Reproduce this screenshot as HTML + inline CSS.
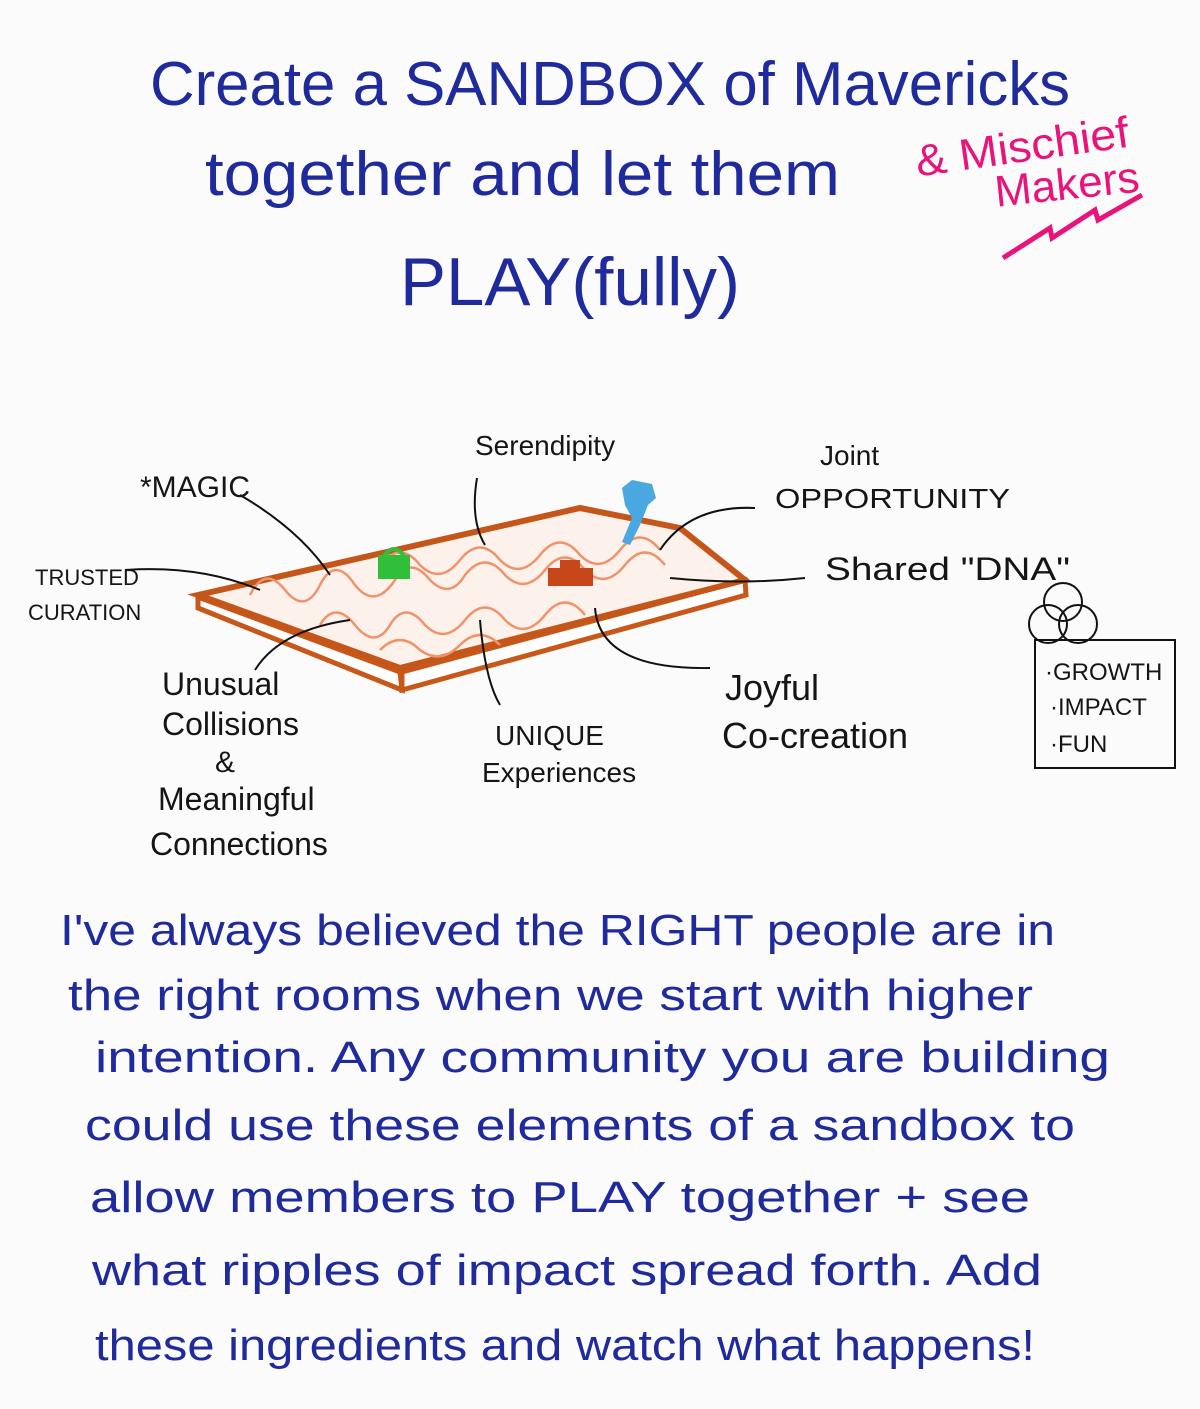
<!DOCTYPE html>
<html><head><meta charset="utf-8"><style>
html,body{margin:0;padding:0;background:#fbfbfb;}
svg{display:block;}
</style></head><body>
<svg width="1200" height="1409" viewBox="0 0 1200 1409" xmlns="http://www.w3.org/2000/svg">
<rect width="1200" height="1409" fill="#fbfbfb"/>
<g fill="#1f2a9c" font-family="Liberation Sans, sans-serif">
<text x="150" y="105" font-size="62" textLength="920" lengthAdjust="spacingAndGlyphs">Create a SANDBOX of Mavericks</text>
<text x="205" y="195" font-size="62" textLength="635" lengthAdjust="spacingAndGlyphs">together and let them</text>
<text x="400" y="305" font-size="68" textLength="340" lengthAdjust="spacingAndGlyphs">PLAY(fully)</text>
</g>
<g font-family="Liberation Sans, sans-serif" fill="#e8147c">
<text x="915" y="162" font-size="44" textLength="215" lengthAdjust="spacingAndGlyphs" transform="rotate(-8 1020 150)">&amp; Mischief</text>
<text x="995" y="200" font-size="44" textLength="145" lengthAdjust="spacingAndGlyphs" transform="rotate(-6 1060 190)">Makers</text>
</g>
<polyline points="1003,258 1050,228 1052,238 1095,210 1098,220 1142,195" fill="none" stroke="#e8147c" stroke-width="5"/>

<!-- sandbox -->
<polygon points="198,597 400,672 402,690 198,608" fill="#fff" stroke="#c8581a" stroke-width="5"/>
<polygon points="402,672 745,580 746,595 402,690" fill="#fff" stroke="#c8581a" stroke-width="5"/>
<polygon points="198,595 580,508 680,528 745,580 400,668" fill="#fdf1eb" stroke="#c4561a" stroke-width="6"/>
<g fill="none" stroke="#f0926a" stroke-width="2.5">
<path d="M250,595 q15,-30 35,-5 q20,25 35,-5 q15,-30 35,0 q20,25 40,-5 q15,-25 35,0 q20,20 35,-5 q20,-25 40,0 q20,20 40,-5 q20,-25 40,0 q20,20 40,-5 q20,-25 40,0"/>
<path d="M320,625 q15,-25 35,0 q20,25 35,0 q15,-25 35,0 q20,20 40,-5 q20,-25 40,0 q20,20 40,-5 q20,-25 40,0"/>
<path d="M380,565 q20,-25 40,0 q20,20 40,-5 q20,-25 40,0 q20,20 40,-5 q20,-25 40,0 q20,20 40,-5 q20,-25 40,0"/>
<path d="M380,650 q20,-20 40,0 q20,15 40,-5 q20,-20 40,0"/>
</g>
<rect x="378" y="555" width="32" height="24" fill="#2fbf3a"/>
<path d="M384,556 q10,-14 20,0" fill="none" stroke="#2fbf3a" stroke-width="4"/>
<polygon points="622,488 632,480 652,484 656,498 648,505 640,525 630,545 622,542 632,518 625,505" fill="#4aa8e0"/>
<rect x="548" y="568" width="45" height="18" fill="#c8471a"/>
<rect x="560" y="560" width="20" height="10" fill="#c8471a"/>

<!-- connectors -->
<g fill="none" stroke="#111" stroke-width="2">
<path d="M125,570 Q200,565 260,590"/>
<path d="M240,495 Q300,530 330,575"/>
<path d="M477,478 Q470,520 485,545"/>
<path d="M755,508 Q690,505 660,550"/>
<path d="M805,578 Q740,585 670,578"/>
<path d="M350,620 Q280,630 255,670"/>
<path d="M480,620 Q485,680 500,705"/>
<path d="M595,608 Q600,670 710,668"/>
<rect x="1035" y="640" width="140" height="128"/>
<circle cx="1048" cy="624" r="19"/><circle cx="1078" cy="624" r="19"/><circle cx="1063" cy="602" r="19"/>
</g>
<g font-family="Liberation Sans, sans-serif" fill="#151515">
<text x="140" y="497" font-size="30">*MAGIC</text>
<text x="475" y="455" font-size="28">Serendipity</text>
<text x="820" y="465" font-size="28">Joint</text>
<text x="775" y="508" font-size="28" textLength="235" lengthAdjust="spacingAndGlyphs">OPPORTUNITY</text>
<text x="825" y="580" font-size="32" textLength="245" lengthAdjust="spacingAndGlyphs">Shared "DNA"</text>
<text x="35" y="585" font-size="22">TRUSTED</text>
<text x="28" y="620" font-size="22">CURATION</text>
<text x="162" y="695" font-size="32">Unusual</text>
<text x="162" y="735" font-size="32">Collisions</text>
<text x="215" y="772" font-size="30">&amp;</text>
<text x="158" y="810" font-size="32">Meaningful</text>
<text x="150" y="855" font-size="32">Connections</text>
<text x="495" y="745" font-size="28">UNIQUE</text>
<text x="482" y="782" font-size="28">Experiences</text>
<text x="725" y="700" font-size="36">Joyful</text>
<text x="722" y="748" font-size="36">Co-creation</text>
<text x="1045" y="680" font-size="24">·GROWTH</text>
<text x="1050" y="715" font-size="24">·IMPACT</text>
<text x="1050" y="752" font-size="24">·FUN</text>
</g>

<g font-family="Liberation Sans, sans-serif" fill="#1f2a9c" font-size="44">
<text x="60" y="945" textLength="995" lengthAdjust="spacingAndGlyphs">I've always believed the RIGHT people are in</text>
<text x="68" y="1010" textLength="965" lengthAdjust="spacingAndGlyphs">the right rooms when we start with higher</text>
<text x="95" y="1072" textLength="1015" lengthAdjust="spacingAndGlyphs">intention. Any community you are building</text>
<text x="85" y="1140" textLength="990" lengthAdjust="spacingAndGlyphs">could use these elements of a sandbox to</text>
<text x="90" y="1212" textLength="940" lengthAdjust="spacingAndGlyphs">allow members to PLAY together + see</text>
<text x="92" y="1285" textLength="950" lengthAdjust="spacingAndGlyphs">what ripples of impact spread forth. Add</text>
<text x="95" y="1360" textLength="940" lengthAdjust="spacingAndGlyphs">these ingredients and watch what happens!</text>
</g>
</svg>
</body></html>
